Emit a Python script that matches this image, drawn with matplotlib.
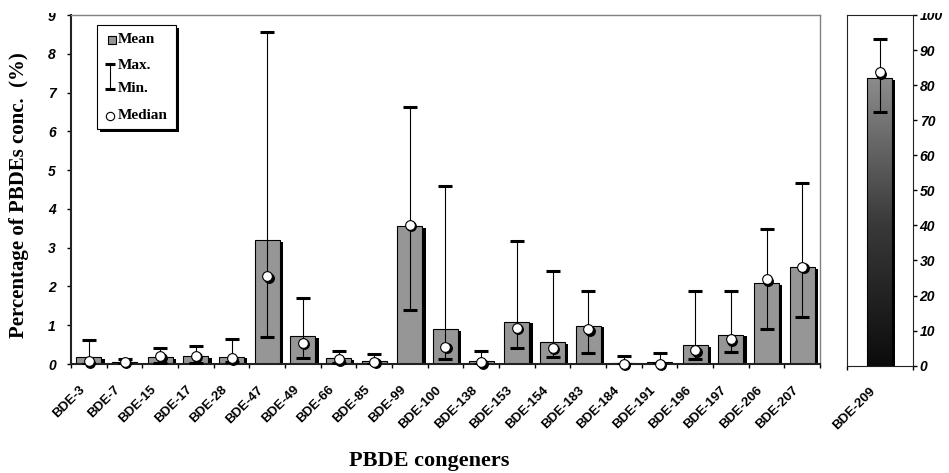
import numpy as np
import matplotlib
matplotlib.use('Agg')
import matplotlib.pyplot as plt
from matplotlib.patches import Rectangle
import matplotlib.patheffects as pe
from matplotlib.transforms import ScaledTranslation, blended_transform_factory
from matplotlib.colors import LinearSegmentedColormap

# ---------------- data ----------------
congeners = ['BDE-3', 'BDE-7', 'BDE-15', 'BDE-17', 'BDE-28', 'BDE-47', 'BDE-49',
             'BDE-66', 'BDE-85', 'BDE-99', 'BDE-100', 'BDE-138', 'BDE-153',
             'BDE-154', 'BDE-183', 'BDE-184', 'BDE-191', 'BDE-196', 'BDE-197',
             'BDE-206', 'BDE-207']
mean_vals = [0.17, 0.05, 0.17, 0.20, 0.19, 3.19, 0.71, 0.15, 0.08, 3.55, 0.90,
             0.08, 1.09, 0.56, 0.99, 0.03, 0.05, 0.48, 0.76, 2.08, 2.50]
max_vals = [0.62, 0.12, 0.41, 0.46, 0.64, 8.55, 1.71, 0.34, 0.25, 6.62, 4.58,
            0.34, 3.17, 2.40, 1.89, 0.21, 0.29, 1.89, 1.89, 3.47, 4.68]
min_vals = [0.00, 0.00, 0.02, 0.02, 0.05, 0.70, 0.16, 0.02, 0.01, 1.40, 0.13,
            0.00, 0.40, 0.18, 0.28, 0.00, 0.00, 0.14, 0.30, 0.89, 1.22]
median_vals = [0.07, 0.06, 0.20, 0.21, 0.15, 2.27, 0.55, 0.12, 0.06, 3.59, 0.45,
               0.04, 0.94, 0.42, 0.90, 0.01, 0.01, 0.35, 0.64, 2.19, 2.51]

big_label = ['BDE-209']
big_mean = [81.9]
big_max = [93.2]
big_min = [72.4]
big_median = [83.7]

left_yticks = list(range(0, 10))
right_yticks = list(range(0, 101, 10))

# ---------------- style ----------------
SANS = 'Liberation Sans'
SERIF = 'Liberation Serif'
BAR_GRAY = '#969696'

fig = plt.figure(figsize=(9.49, 4.73), dpi=100)
W, H = 949.0, 473.0
ax = fig.add_axes([71 / W, 1 - 364 / H, 749 / W, 349 / H])
ax2 = fig.add_axes([846.7 / W, 1 - 365.7 / H, 66 / W, 350.7 / H])

shadow = [pe.SimplePatchShadow(offset=(2.4, -1.2), shadow_rgbFace='k', alpha=1.0), pe.Normal()]
mk_shift = ScaledTranslation(1.1 / 72, -1.1 / 72, fig.dpi_scale_trans)
lbl_shift = ScaledTranslation(-6 / 100, -24 / 100, fig.dpi_scale_trans)


def category_labels(axis, xs, labels):
    tr = blended_transform_factory(axis.transData, axis.transAxes) + lbl_shift
    for xi, lab in zip(xs, labels):
        axis.text(xi, 0, lab, transform=tr, rotation=45, rotation_mode='anchor',
                  ha='right', va='center', fontsize=9.5, fontweight='bold',
                  family=SANS, clip_on=False)


# ---------------- left panel ----------------
n = len(congeners)
x = np.arange(n)
mean_a = np.array(mean_vals)
max_a = np.array(max_vals)
min_a = np.array(min_vals)

ax.bar(x, mean_a, width=0.7, color=BAR_GRAY, edgecolor='k', linewidth=0.8,
       zorder=2, path_effects=shadow)
ax.errorbar(x, min_a, yerr=[np.zeros(n), max_a - min_a], fmt='none', ecolor='k',
            elinewidth=0.8, capsize=5, capthick=2.2, zorder=3)
ax.plot(x, median_vals, 'o', ms=7, mfc='k', mec='k', mew=0.8, zorder=4,
        transform=ax.transData + mk_shift, clip_on=False)
ax.plot(x, median_vals, 'o', ms=7, mfc='white', mec='k', mew=0.8, zorder=5,
        clip_on=False)

ax.set_xlim(-0.5, n - 0.5)
ax.set_ylim(0, 9)
ax.set_yticks(left_yticks)
ax.set_yticklabels([str(v) for v in left_yticks], fontsize=10, fontweight='bold',
                   fontstyle='italic', family=SANS)
ax.tick_params(axis='y', direction='out', length=3, width=1, pad=8)
ax.set_xticks(np.arange(-0.5, n, 1.0))
ax.set_xticklabels([])
ax.tick_params(axis='x', which='major', direction='out', length=3, width=1)
category_labels(ax, x, congeners)

for s in ['left', 'bottom']:
    ax.spines[s].set_linewidth(1.5)
    ax.spines[s].set_color('#222222')
for s in ['top', 'right']:
    ax.spines[s].set_linewidth(1.0)
    ax.spines[s].set_color('#808080')

# legend (drawn manually)
T = ax.transAxes
lx0, ly0, lw_, lh_ = 0.0343, 0.673, 0.1055, 0.298
ax.add_patch(Rectangle((lx0 + 3 / 749, ly0 - 3 / 349), lw_, lh_, transform=T,
                       fc='k', ec='none', zorder=6, clip_on=False))
ax.add_patch(Rectangle((lx0, ly0), lw_, lh_, transform=T, fc='white', ec='k',
                       lw=0.8, zorder=7, clip_on=False))
ax.plot([0.0554], [0.929], 's', ms=6, mfc=BAR_GRAY, mec='k', mew=0.8,
        transform=T, zorder=8, clip_on=False)
ax.plot([0.0525, 0.0525], [0.787, 0.859], color='k', lw=0.8, transform=T,
        zorder=8, clip_on=False)
for yy in (0.859, 0.787):
    ax.plot([0.0454, 0.0587], [yy, yy], color='k', lw=2.2, transform=T,
            zorder=8, clip_on=False, solid_capstyle='butt')
ax.plot([0.052], [0.711], 'o', ms=6, mfc='white', mec='k', mew=0.8,
        transform=T, zorder=8, clip_on=False)
leg_txt = dict(transform=T, fontsize=11, fontweight='bold', family=SERIF,
               ha='left', va='center', zorder=9)
ax.text(0.0628, 0.929, 'Mean', **leg_txt)
ax.text(0.0628, 0.854, 'Max.', **leg_txt)
ax.text(0.0628, 0.788, 'Min.', **leg_txt)
ax.text(0.0628, 0.711, 'Median', **leg_txt)

# ---------------- right panel ----------------
bw = 0.373
x2 = np.arange(len(big_label))
ax2.bar(x2, big_mean, width=bw, color='k', edgecolor='none', zorder=2,
        path_effects=shadow)
cmap = LinearSegmentedColormap.from_list('g', ['#0c0c0c', '#3a3a3a', '#8c8c8c'])
for xi, m in zip(x2, big_mean):
    grad = np.linspace(0, 1, 256).reshape(-1, 1)
    im = ax2.imshow(grad, extent=[xi - bw / 2, xi + bw / 2, 0, m], origin='lower',
                    cmap=cmap, aspect='auto', zorder=2.5, interpolation='bilinear')
    clip = Rectangle((xi - bw / 2, 0), bw, m, transform=ax2.transData,
                     fc='none', ec='none')
    ax2.add_patch(clip)
    im.set_clip_path(clip)
ax2.bar(x2, big_mean, width=bw, color='none', edgecolor='k', linewidth=0.8,
        zorder=3)
bmin = np.array(big_min)
bmax = np.array(big_max)
ax2.errorbar(x2, bmin, yerr=[np.zeros(len(x2)), bmax - bmin], fmt='none',
             ecolor='k', elinewidth=0.8, capsize=5, capthick=2.2, zorder=4)
ax2.plot(x2, big_median, 'o', ms=7, mfc='k', mec='k', mew=0.8, zorder=5,
         transform=ax2.transData + mk_shift, clip_on=False)
ax2.plot(x2, big_median, 'o', ms=7, mfc='white', mec='k', mew=0.8, zorder=6,
         clip_on=False)

ax2.set_xlim(-0.5, 0.5)
ax2.set_ylim(0, 100)
ax2.yaxis.tick_right()
ax2.set_yticks(right_yticks)
ax2.set_yticklabels([str(v) for v in right_yticks], fontsize=10,
                    fontweight='bold', fontstyle='italic', family=SANS)
ax2.tick_params(axis='y', direction='out', length=3, width=1, pad=2)
ax2.set_xticks([-0.5, 0.5])
ax2.set_xticklabels([])
ax2.tick_params(axis='x', which='major', direction='out', length=3, width=1)
category_labels(ax2, x2, big_label)
for s in ax2.spines.values():
    s.set_linewidth(0.8)
    s.set_color('#222222')

# ---------------- axis titles ----------------
fig.text(19 / W, 1 - 195 / H, 'Percentage of PBDEs conc.  (%)', rotation=90,
         ha='center', va='center', fontsize=15, fontweight='bold', family=SERIF)
fig.text(429 / W, 1 - 461 / H, 'PBDE congeners', ha='center', va='center',
         fontsize=16, fontweight='bold', family=SERIF)

# top crop like the reference image
fig.add_artist(Rectangle((0, 1 - 13 / H), 1, 13 / H, transform=fig.transFigure,
                         fc='white', ec='none', zorder=100))

fig.savefig('out.png', dpi=100)
